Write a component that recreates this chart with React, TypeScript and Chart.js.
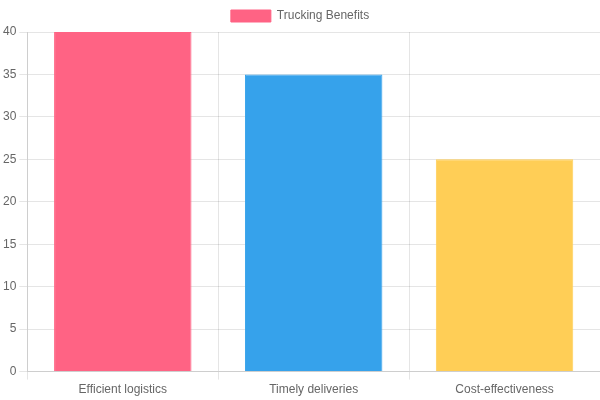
import React, { useRef, useEffect } from 'react';
import { Chart, registerables } from 'chart.js';

Chart.register(...registerables);

const categories = ['Efficient logistics', 'Timely deliveries', 'Cost-effectiveness'];
const benefitValues = [40, 35, 25];
const barColors = ['rgb(255, 99, 132)', 'rgb(54, 162, 235)', 'rgb(255, 206, 86)'];

export default function App() {
  const canvasRef = useRef<HTMLCanvasElement>(null);

  useEffect(() => {
    document.body.style.margin = '0';
    const canvas = canvasRef.current;
    if (!canvas) return;

    const chart = new Chart(canvas, {
      type: 'bar',
      data: {
        labels: categories,
        datasets: [
          {
            label: 'Trucking Benefits',
            data: benefitValues,
            backgroundColor: barColors,
            borderColor: barColors,
            borderWidth: 1,
          },
        ],
      },
      options: {
        animation: false,
        responsive: true,
        maintainAspectRatio: false,
        scales: {
          y: { beginAtZero: true },
        },
      },
    });

    return () => chart.destroy();
  }, []);

  return (
    <div style={{ width: 600, height: 400, position: 'relative' }}>
      <canvas ref={canvasRef} />
    </div>
  );
}
